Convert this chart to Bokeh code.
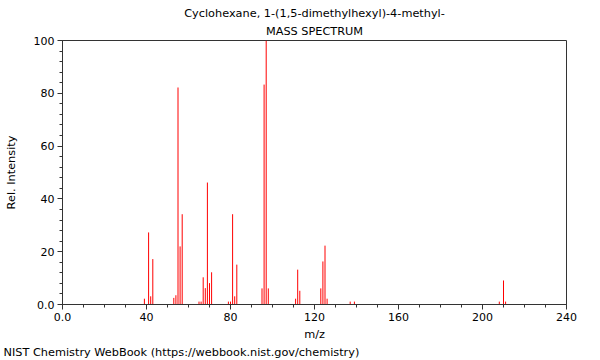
from bokeh.plotting import figure
from bokeh.models import FixedTicker, Title, Range1d, ColumnDataSource
from bokeh.embed import file_html
from bokeh.resources import INLINE

title_line1 = "Cyclohexane, 1-(1,5-dimethylhexyl)-4-methyl-"
title_line2 = "MASS SPECTRUM"
footer = "NIST Chemistry WebBook (https://webbook.nist.gov/chemistry)"

mz = [39, 41, 42, 43, 53, 54, 55, 56, 57, 65, 66, 67, 68, 69, 70, 71,
      79, 80, 81, 82, 83, 95, 96, 97, 98, 111, 112, 113, 123, 124, 125, 126,
      137, 139, 208, 210, 211]
intensity = [2.2, 27.3, 3.1, 17.2, 2.5, 3.5, 82.2, 22.0, 34.2, 1.1, 1.1, 10.3, 6.2, 46.2, 8.1, 12.2,
             1.1, 1.1, 34.2, 3.1, 15.1, 6.1, 83.3, 100.0, 6.1, 2.2, 13.2, 5.2, 6.1, 16.3, 22.3, 2.2,
             1.1, 1.1, 1.1, 9.1, 1.1]

x_ticks = [0, 40, 80, 120, 160, 200, 240]
x_tick_labels = ["0.0", "40", "80", "120", "160", "200", "240"]
y_ticks = [0, 20, 40, 60, 80, 100]
y_tick_labels = ["0.0", "20", "40", "60", "80", "100"]

FONT = "DejaVu Sans"
AX = "#333333"
FS = "11.3px"

p = figure(width=600, height=360, output_backend="svg", toolbar_location=None,
           x_range=Range1d(0, 240), y_range=Range1d(0, 100),
           min_border_left=62, min_border_right=34, min_border_top=40, min_border_bottom=56,
           styles={"position": "absolute", "left": "0px", "top": "0px"})

src = ColumnDataSource(dict(x=mz, y=intensity, y0=[0] * len(mz)))
p.segment(x0="x", y0="y0", x1="x", y1="y", source=src, line_color="#ff0000", line_width=1)

p.xgrid.visible = False
p.ygrid.visible = False
p.outline_line_color = AX
p.outline_line_width = 1
p.background_fill_color = "white"
p.border_fill_color = "white"

p.xaxis.ticker = FixedTicker(ticks=x_ticks, minor_ticks=list(range(0, 241, 10)))
p.yaxis.ticker = FixedTicker(ticks=y_ticks, minor_ticks=list(range(0, 101, 4)))
p.xaxis.major_label_overrides = dict(zip(x_ticks, x_tick_labels))
p.yaxis.major_label_overrides = dict(zip(y_ticks, y_tick_labels))

for ax in (p.xaxis, p.yaxis):
    ax.axis_line_color = AX
    ax.major_tick_line_color = AX
    ax.minor_tick_line_color = AX
    ax.major_tick_in = 0
    ax.minor_tick_in = 0
    ax.major_tick_out = 5
    ax.minor_tick_out = 3
    ax.major_label_text_font = FONT
    ax.major_label_text_font_size = "11px"
    ax.major_label_text_color = "black"
    ax.axis_label_text_font = FONT
    ax.axis_label_text_font_size = FS
    ax.axis_label_text_font_style = "normal"
    ax.axis_label_text_color = "black"

p.xaxis.axis_label = "m/z"
p.yaxis.axis_label = "Rel. Intensity"
p.xaxis.major_label_standoff = 3
p.yaxis.major_label_standoff = 3
p.xaxis.axis_label_standoff = 4
p.yaxis.axis_label_standoff = 13

p.add_layout(Title(text=footer, align="left", offset=-59, text_font=FONT,
                   text_font_size=FS, text_font_style="normal", text_color="black",
                   standoff=0), "below")
p.add_layout(Title(text=title_line2, align="center", text_font=FONT, text_font_size=FS,
                   text_font_style="normal", text_color="black", standoff=5), "above")
p.add_layout(Title(text=title_line1, align="center", text_font=FONT, text_font_size=FS,
                   text_font_style="normal", text_color="black", standoff=1), "above")

open("out.html", "w").write(file_html(p, INLINE))
